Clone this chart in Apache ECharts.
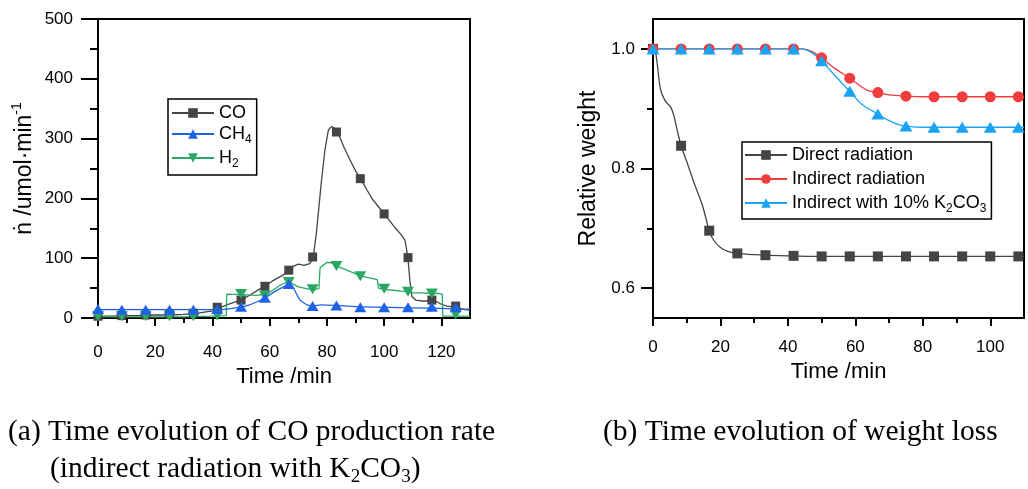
<!DOCTYPE html>
<html>
<head>
<meta charset="utf-8">
<script src="https://cdn.jsdelivr.net/npm/echarts@6/dist/echarts.min.js"></script>
<style>
  html, body { margin: 0; padding: 0; background: #fff; }
  #chart { width: 1028px; height: 489px; }
</style>
</head>
<body>
<div id="chart"></div>
<script>
// ---- (a) gas production rates, indirect radiation with K2CO3 ----
const markTimesA = [0, 8.33, 16.67, 25, 33.33, 41.67, 50, 58.33, 66.67, 75, 83.33, 91.67, 100, 108.33, 116.67, 125];
const coMarks  = [3, 4, 5, 6, 8, 18, 30, 53, 80, 102, 311, 233, 174, 101, 30, 20];
const ch4Marks = [15, 14, 14, 14, 14, 15, 19, 34, 57, 20, 21, 18, 18, 18, 19, 18];
const h2Marks  = [3, 3, 3, 3, 3, 4, 40, 37, 60, 48, 87, 70, 49, 44, 41, 6];

const coTrace = [[0,3],[5,3],[10,4],[15,4],[20,5],[25,5],[30,6],[35,8],[40,12],[42,16],[45,22],[48,27],[50,30],[53,38],[56,47],[58.3,53],[61,62],[64,70],[66.7,78],[68,86],[70,90],[72,88],[74,91],[75.2,101],[76.3,141],[78,225],[79.3,281],[80.5,314],[81.5,320],[82.5,318],[84,308],[86,285],[88,265],[90,246],[92,231],[94,214],[96,198],[98,186],[100,174],[102,162],[104,150],[106,139],[107.3,130],[108.3,101],[109,62],[109.7,36],[111,30],[114,28],[116.7,30],[118,28],[120,23],[122,20],[125,18],[128,14],[130,13]];
const ch4Trace = [[0,14],[10,14],[20,14],[30,14],[40,14],[45,15],[48,17],[50,18],[53,22],[56,28],[58.3,33],[61,42],[64,50],[66.7,55],[68,52],[69,44],[70.4,31],[72,25],[73.6,21],[75,20],[78,22],[83.3,21],[90,19],[100,18],[110,17],[120,16],[125,15],[130,15]];
const h2Trace = [[0,2],[10,2],[20,2],[30,2],[40,3],[44.8,4],[45,40],[50,39],[55,38],[58.3,39],[61,46],[64,56],[66.7,61],[68,57],[70,52],[72,50],[75,47],[77.2,49],[77.6,84],[80,93],[82,92],[84,86],[88,78],[91.7,71],[94,68],[97.6,64],[98,50],[100,48],[104,46],[106,45],[108.3,44],[110,42],[113,42],[116.7,41],[119,41],[120.3,40],[120.5,3],[125,3],[130,3]];

// ---- (b) relative weight ----
const markTimesB = [0, 8.33, 16.67, 25, 33.33, 41.67, 50, 58.33, 66.67, 75, 83.33, 91.67, 100, 108.33];
const directMarks   = [1.0, 0.838, 0.696, 0.658, 0.655, 0.654, 0.653, 0.653, 0.653, 0.653, 0.653, 0.653, 0.653, 0.653];
const indirectMarks = [1.0, 1.0, 1.0, 1.0, 1.0, 1.0, 0.985, 0.951, 0.927, 0.921, 0.920, 0.920, 0.920, 0.920];
const k2co3Marks    = [1.0, 1.0, 1.0, 1.0, 1.0, 1.0, 0.980, 0.929, 0.891, 0.871, 0.869, 0.869, 0.869, 0.869];

const directTrace = [[0,1.0],[0.7,0.995],[1.2,0.978],[2.2,0.933],[3.6,0.913],[5.2,0.903],[6.1,0.89],[7.1,0.866],[8.33,0.838],[10.1,0.81],[12.5,0.771],[14.5,0.741],[15.5,0.721],[16.67,0.696],[18,0.68],[20,0.668],[22,0.662],[25,0.658],[30,0.656],[40,0.654],[50,0.653],[110,0.653]];
const indirectTrace = [[0,1],[44,1],[46,0.998],[48,0.993],[50,0.985],[54,0.967],[58.33,0.951],[62,0.936],[64,0.93],[66.67,0.927],[70,0.923],[75,0.921],[80,0.92],[110,0.92]];
const k2co3Trace = [[0,1],[44,1],[46,0.997],[48,0.99],[50,0.98],[54,0.955],[58.33,0.929],[62,0.907],[66.67,0.891],[70,0.88],[73,0.873],[75,0.871],[80,0.869],[110,0.869]];

const xTicksA = [0, 20, 40, 60, 80, 100, 120];
const xTicksB = [0, 20, 40, 60, 80, 100];
const yTicksB = [0.6, 0.8, 1.0];
const yMinorB = [0.7, 0.9];

const C_CO = '#444444', C_CH4 = '#1f62e6', C_H2 = '#2aa862';
const C_DIR = '#444444', C_IND = '#f03c3c', C_K = '#18a4f2';

const FONT = 'Liberation Sans, Arial, DejaVu Sans, sans-serif';
const SERIF = 'Liberation Serif, Times New Roman, serif';

const GRID_A = { left: 98, top: 19, right: 558, bottom: 171 };
const GRID_B = { left: 653, top: 19, right: 4, bottom: 171 };
const PLOT_W_B = 1028 - 653 - 4;

function pts(ts, vs) { return ts.map((t, i) => [t, vs[i]]); }

const sub = { fontSize: 12, fontFamily: FONT, color: '#000', verticalAlign: 'bottom', lineHeight: 12, padding: [0, 0, -3, 0] };
const tickLine = { color: '#000', width: 2 };

function timeAxis(grid, ticks, max, labelMargin, nameGap) {
  return {
    type: 'value', gridIndex: grid, min: 0, max: max, interval: 20,
    name: 'Time /min', nameLocation: 'middle', nameGap: nameGap,
    nameTextStyle: { fontFamily: FONT, fontSize: 22, color: '#000' },
    axisLine: { onZero: false, lineStyle: { color: '#000', width: 2 } },
    axisTick: { customValues: ticks, length: 8, lineStyle: tickLine },
    minorTick: { show: true, splitNumber: 2, length: 5, lineStyle: tickLine },
    axisLabel: { customValues: ticks, margin: labelMargin, fontFamily: FONT, fontSize: 17, color: '#000' },
    splitLine: { show: false }, minorSplitLine: { show: false }
  };
}

const option = {
  backgroundColor: '#fff',
  animation: false,
  grid: [
    Object.assign({ show: true, borderColor: '#000', borderWidth: 2, backgroundColor: 'transparent' }, GRID_A),
    Object.assign({ show: true, borderColor: '#000', borderWidth: 2, backgroundColor: 'transparent' }, GRID_B)
  ],
  xAxis: [
    timeAxis(0, xTicksA, 130, 26, 48),
    timeAxis(1, xTicksB, 110, 21, 40)
  ],
  yAxis: [
    {
      type: 'value', gridIndex: 0, min: 0, max: 500, interval: 100, position: 'left',
      name: '{n|ṅ /umol·min}{p|-1}', nameLocation: 'middle', nameGap: 60,
      nameTextStyle: { fontFamily: FONT, fontSize: 23, color: '#000',
        rich: { n: { fontFamily: FONT, fontSize: 23, color: '#000', lineHeight: 26 },
                p: { fontFamily: FONT, fontSize: 14, color: '#000', verticalAlign: 'top', lineHeight: 14, padding: [-2, 0, 0, 0] } } },
      axisLine: { lineStyle: { color: '#000', width: 2 } },
      axisTick: { length: 17, lineStyle: tickLine },
      minorTick: { show: true, splitNumber: 2, length: 8, lineStyle: tickLine },
      axisLabel: { margin: 25, fontFamily: FONT, fontSize: 17, color: '#000' },
      splitLine: { show: false }, minorSplitLine: { show: false }
    },
    {
      type: 'value', gridIndex: 1, min: 0.55, max: 1.05, position: 'left',
      name: 'Relative weight', nameLocation: 'middle', nameGap: 53,
      nameTextStyle: { fontFamily: FONT, fontSize: 23, color: '#000' },
      axisLine: { lineStyle: { color: '#000', width: 2 } },
      axisTick: { customValues: yTicksB, length: 12, lineStyle: tickLine },
      axisLabel: { customValues: yTicksB, margin: 18, fontFamily: FONT, fontSize: 17, color: '#000',
                   formatter: v => v.toFixed(1) },
      splitLine: { show: false }
    },
    {
      // short ticks on the left edge, carried by a second axis moved over from the right side
      type: 'value', gridIndex: 1, min: 0.55, max: 1.05, position: 'right', offset: -PLOT_W_B,
      axisLine: { show: false },
      axisTick: { customValues: yMinorB, inside: true, length: 6, lineStyle: tickLine },
      axisLabel: { show: false }, splitLine: { show: false }
    }
  ],
  legend: [
    {
      left: 168, top: 99, orient: 'vertical',
      data: ['CO', 'CH4', 'H2'],
      itemWidth: 42, itemHeight: 12, itemGap: 3,
      padding: [5, 5, 5, 3],
      borderColor: '#000', borderWidth: 1.5,
      textStyle: { fontFamily: FONT, fontSize: 18, color: '#000', rich: { s: sub } },
      formatter: n => n === 'CH4' ? 'CH{s|4}' : (n === 'H2' ? 'H{s|2}' : n)
    },
    {
      left: 742, top: 142, orient: 'vertical',
      data: ['Direct radiation', 'Indirect radiation', 'Indirect with 10% K2CO3'],
      itemWidth: 42, itemHeight: 12, itemGap: 6,
      padding: [4, 5, 4, 2],
      borderColor: '#000', borderWidth: 1.5,
      textStyle: { fontFamily: FONT, fontSize: 18, color: '#000', rich: { s: sub } },
      formatter: n => n === 'Indirect with 10% K2CO3' ? 'Indirect with 10% K{s|2}CO{s|3}' : n
    }
  ],
  title: [
    { text: '(a) Time evolution of CO production rate', left: 8, top: 417, padding: 0,
      textStyle: { fontFamily: SERIF, fontSize: 29.5, fontWeight: 'normal', color: '#000' } },
    { text: '{n|(indirect radiation with K}{s|2}{n|CO}{s|3}{n|)}', left: 50, top: 453, padding: 0,
      textStyle: { fontFamily: SERIF, fontSize: 29.5, fontWeight: 'normal', color: '#000',
        rich: { n: { fontFamily: SERIF, fontSize: 29.5, color: '#000', lineHeight: 33 },
                s: { fontFamily: SERIF, fontSize: 19, color: '#000', verticalAlign: 'bottom', lineHeight: 20, padding: [0, 0, -1, 0] } } } },
    { text: '(b) Time evolution of weight loss', left: 603, top: 417, padding: 0,
      textStyle: { fontFamily: SERIF, fontSize: 29.5, fontWeight: 'normal', color: '#000' } }
  ],
  series: [
    // (a) traces
    { name: 'CO', type: 'line', xAxisIndex: 0, yAxisIndex: 0, data: coTrace, symbol: 'rect', showSymbol: false,
      lineStyle: { color: C_CO, width: 1.3 }, itemStyle: { color: C_CO }, z: 2 },
    { name: 'H2', type: 'line', xAxisIndex: 0, yAxisIndex: 0, data: h2Trace, symbol: 'triangle', symbolRotate: 180, showSymbol: false,
      lineStyle: { color: C_H2, width: 1.3 }, itemStyle: { color: C_H2 }, z: 2 },
    { name: 'CH4', type: 'line', xAxisIndex: 0, yAxisIndex: 0, data: ch4Trace, symbol: 'triangle', showSymbol: false, smooth: 0.3,
      lineStyle: { color: C_CH4, width: 1.3 }, itemStyle: { color: C_CH4 }, z: 2 },
    // (a) markers
    { name: 'CO marks', type: 'scatter', xAxisIndex: 0, yAxisIndex: 0, data: pts(markTimesA, coMarks),
      symbol: 'rect', symbolSize: 9, itemStyle: { color: C_CO, opacity: 1 }, z: 3 },
    { name: 'H2 marks', type: 'scatter', xAxisIndex: 0, yAxisIndex: 0, data: pts(markTimesA, h2Marks),
      symbol: 'triangle', symbolRotate: 180, symbolSize: [12, 10], itemStyle: { color: C_H2, opacity: 1 }, z: 4 },
    { name: 'CH4 marks', type: 'scatter', xAxisIndex: 0, yAxisIndex: 0, data: pts(markTimesA, ch4Marks),
      symbol: 'triangle', symbolSize: [12, 10], itemStyle: { color: C_CH4, opacity: 1 }, z: 5 },
    // (b) traces
    { name: 'Direct radiation', type: 'line', xAxisIndex: 1, yAxisIndex: 1, data: directTrace, symbol: 'rect', showSymbol: false, smooth: 0.3,
      lineStyle: { color: C_DIR, width: 1.3 }, itemStyle: { color: C_DIR }, z: 2 },
    { name: 'Indirect radiation', type: 'line', xAxisIndex: 1, yAxisIndex: 1, data: indirectTrace, symbol: 'circle', showSymbol: false, smooth: 0.3,
      lineStyle: { color: C_IND, width: 1.3 }, itemStyle: { color: C_IND }, z: 2 },
    { name: 'Indirect with 10% K2CO3', type: 'line', xAxisIndex: 1, yAxisIndex: 1, data: k2co3Trace, symbol: 'triangle', showSymbol: false, smooth: 0.3,
      lineStyle: { color: C_K, width: 1.3 }, itemStyle: { color: C_K }, z: 2 },
    // (b) markers
    { name: 'Direct marks', type: 'scatter', xAxisIndex: 1, yAxisIndex: 1, data: pts(markTimesB, directMarks),
      symbol: 'rect', symbolSize: 10, itemStyle: { color: C_DIR, opacity: 1 }, z: 3 },
    { name: 'Indirect marks', type: 'scatter', xAxisIndex: 1, yAxisIndex: 1, data: pts(markTimesB, indirectMarks),
      symbol: 'circle', symbolSize: 11, itemStyle: { color: C_IND, opacity: 1 }, z: 4 },
    { name: 'K2CO3 marks', type: 'scatter', xAxisIndex: 1, yAxisIndex: 1, data: pts(markTimesB, k2co3Marks),
      symbol: 'triangle', symbolSize: [13, 11], itemStyle: { color: C_K, opacity: 1 }, z: 5 }
  ]
};

const chart = echarts.init(document.getElementById('chart'), null, { renderer: 'canvas' });
chart.setOption(option);
</script>
</body>
</html>
